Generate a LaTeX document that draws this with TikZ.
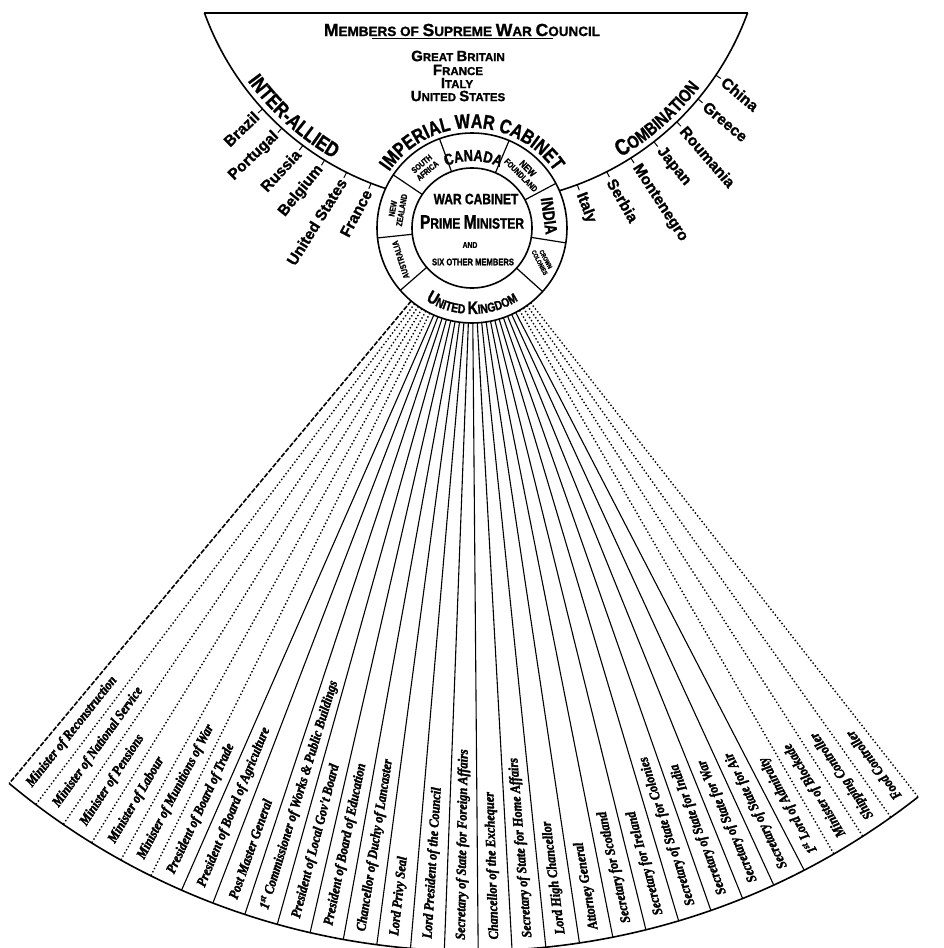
\documentclass[tikz,border=0pt]{standalone}
\usepackage{fontspec}
\setmainfont{Liberation Sans}
\newfontfamily\heavysans{Liberation Sans}[FakeBold=1.2]
\newfontfamily\letterfont{Liberation Sans}[FakeStretch=0.8,FakeBold=1.2]
\newfontfamily\handfont{Liberation Serif}[FakeStretch=0.88,FakeBold=2.2]
\usetikzlibrary{calc,decorations.text}

\newcommand\capl[1]{\scalebox{1.3}{#1}}

\begin{document}
\begin{tikzpicture}[x=1pt,y=1pt,
  ring/.style={line width=1.6pt},
  spoke/.style={line width=1.1pt},
  dotspoke/.style={line width=1.4pt,dash pattern=on 1.4pt off 2.2pt},
  fanedge/.style={line width=1.6pt,dash pattern=on 5pt off 1.6pt},
  office/.style={font=\handfont\bfseries\itshape\fontsize{14}{14}\selectfont,anchor=west,inner sep=0pt},
  ally/.style={font=\heavysans\bfseries\fontsize{15.5}{15.5}\selectfont,inner sep=0pt},
  dom/.style={font=\letterfont\bfseries\fontsize{8.5}{9}\selectfont,align=center,inner sep=0pt},
  council/.style={font=\heavysans\bfseries\fontsize{11.5}{11.5}\selectfont}]
\useasboundingbox (0,0) rectangle (943,-948);
\coordinate (C) at (472,-228);
\coordinate (B) at (476,86);

% supreme war council
\coordinate (tl) at ($(B)+(-160:289)$);
\coordinate (tr) at ($(B)+(-20:289)$);
\draw[ring] (tl) -- (tr);
\draw[ring] (tl) arc[start angle=-160,end angle=-20,radius=289];

\node[font=\heavysans\bfseries\fontsize{13.5}{13.5}\selectfont] (swc) at (462,-30)
  {\capl{M}EMBERS OF \capl{S}UPREME \capl{W}AR \capl{C}OUNCIL};
\draw[line width=1.2pt] ($(swc.south)+(-90,1)$) -- ($(swc.south)+(91,1)$);
\node[council] (gb) at (458,-56) {\capl{G}REAT \capl{B}RITAIN};
\node[council] (fr) at (458,-70) {\capl{F}RANCE};
\node[council] (it) at (457,-83) {\capl{I}TALY};
\node[council] (us) at (458,-96) {\capl{U}NITED \capl{S}TATES};

% inter-allied and combination
\path[decorate,decoration={text along path,text align=center,
  text={|\letterfont\bfseries\fontsize{21}{21}\selectfont|INTER-ALLIED}}]
  ($(B)+(-152:283)$) arc[start angle=-152,end angle=-112,radius=283];
\path[decorate,decoration={text along path,text align=center,
  text={|\letterfont\bfseries\fontsize{23}{23}\selectfont|C|\letterfont\bfseries\fontsize{18}{18}\selectfont|OMBINATION}}]
  ($(B)+(-68:283)$) arc[start angle=-68,end angle=-29,radius=283];

\foreach \a/\name/\rot [count=\i] in {-137.6/Brazil/44,-132.2/Portugal/44,-126.8/Russia/47,
    -121.6/Belgium/51,-116.6/United States/58,-111.3/France/62} {
  \coordinate (lt\i) at ($(B)+(\a:289)$);
  \coordinate (lu\i) at ($(B)+(\a:295)$);
  \draw[line width=1pt] (lt\i) -- (lu\i);
  \node[ally,anchor=east,rotate=\rot] (left\i) at ($(B)+(\a:297)$) {\name};
}
\foreach \a/\name/\rot [count=\i] in {-69.5/Italy/-69,-63.1/Serbia/-60,-57.6/Montenegro/-57,
    -52/Japan/-51,-46/Roumania/-49,-39.8/Greece/-40,-33.9/China/-40} {
  \coordinate (rt\i) at ($(B)+(\a:289)$);
  \coordinate (ru\i) at ($(B)+(\a:295)$);
  \draw[line width=1pt] (rt\i) -- (ru\i);
  \node[ally,anchor=west,rotate=\rot] (right\i) at ($(B)+(\a:298)$) {\name};
}

% imperial war cabinet
\fill[white] (C) circle[radius=95];
\draw[ring] (C) circle[radius=95];
\draw[ring] (C) circle[radius=60];
\foreach \a [count=\i] in {110,67,28,-9,-42,-139,186,146} {
  \coordinate (di\i) at ($(C)+(\a:60)$);
  \coordinate (do\i) at ($(C)+(\a:95)$);
  \draw[line width=1.2pt] (di\i) -- (do\i);
}
\path[decorate,decoration={text along path,text align=center,
  text={|\letterfont\bfseries\fontsize{20}{20}\selectfont|IMPERIAL WAR CABINET}}]
  ($(C)+(160:100)$) arc[start angle=160,end angle=20,radius=100];
\path[decorate,decoration={text along path,text align=center,
  text={|\letterfont\bfseries\fontsize{16}{16}\selectfont|CANADA}}]
  ($(C)+(118:67)$) arc[start angle=118,end angle=60,radius=67];
\path[decorate,decoration={text along path,text align=center,
  text={|\letterfont\bfseries\fontsize{18}{18}\selectfont|U|\letterfont\bfseries\fontsize{13}{13}\selectfont|NITED |\letterfont\bfseries\fontsize{18}{18}\selectfont|K|\letterfont\bfseries\fontsize{13}{13}\selectfont|INGDOM}}]
  ($(C)+(-145:86)$) arc[start angle=-145,end angle=-35,radius=86];

\node[dom,rotate=40] (safrica) at ($(C)+(128:77)$) {SOUTH\\AFRICA};
\node[dom,rotate=-45] (nfland) at ($(C)+(47:77)$) {{\fontsize{10}{10}\selectfont NEW}\\FOUNDLAND};
\node[dom,rotate=-82,font=\letterfont\bfseries\fontsize{17}{17}\selectfont] (india) at ($(C)+(9:78)$) {INDIA};
\node[dom,rotate=-62,font=\letterfont\bfseries\fontsize{6.5}{7}\selectfont] (colonies) at ($(C)+(-25:78)$) {CROWN\\COLONIES};
\node[dom,rotate=108] (austr) at ($(C)+(204:78)$) {AUSTRALIA};
\node[dom,rotate=80] (nzeal) at ($(C)+(166:77)$) {NEW\\ZEALAND};

\node[font=\letterfont\bfseries\fontsize{15}{15}\selectfont] (wcab) at (476,-199) {WAR CABINET};
\node[font=\letterfont\bfseries\fontsize{15}{15}\selectfont] (pm) at (472,-222) {\capl{P}RIME \capl{M}INISTER};
\node[font=\letterfont\bfseries\fontsize{8.5}{8.5}\selectfont] (and) at (470,-245) {AND};
\node[font=\letterfont\bfseries\fontsize{9.5}{9.5}\selectfont] (six) at (473,-262) {SIX OTHER MEMBERS};

% the ministries
\foreach \i in {0,...,29} {
  \pgfmathsetmacro\ang{-129.8+2.686*\i}
  \coordinate (fi\i) at ($(C)+(\ang:95)$);
  \coordinate (fo\i) at ($(C)+(\ang:723)$);
}
\draw[fanedge] (fi0) -- (fo0);
\foreach \i in {1,...,5} \draw[dotspoke] (fi\i) -- (fo\i);
\foreach \i in {6,...,25} \draw[spoke] (fi\i) -- (fo\i);
\foreach \i in {26,...,29} \draw[dotspoke] (fi\i) -- (fo\i);
\draw[ring] (fo0) arc[start angle=-129.8,end angle=-51.906,radius=723];

\foreach \t [count=\i] in {Minister of Reconstruction,Minister of National Service,
    Minister of Pensions,Minister of Labour,Minister of Munitions of War,
    President of Board of Trade,President of Board of Agriculture,Post Master General,
    {1\textsuperscript{st} Commissioner of Works \& Public Buildings},
    President of Local Gov't Board,President of Board of Education,
    Chancellor of Duchy of Lancaster,Lord Privy Seal,Lord President of the Council,
    Secretary of State for Foreign Affairs,Chancellor of the Exchequer,
    Secretary of State for Home Affairs,Lord High Chancellor,Attorney General,
    Secretary for Scotland,Secretary for Ireland,Secretary of State for Colonies,
    Secretary of State for India,Secretary of State for War,Secretary of State for Air,
    {1\textsuperscript{st} Lord of Admiralty},Minister of Blockade,Shipping Controller,
    Food Controller} {
  \pgfmathsetmacro\mid{-129.8+2.686*(\i-0.5)}
  \pgfmathsetmacro\rot{\mid+180}
  \node[office,rotate=\rot] (post\i) at ($(C)+(\mid:712)$) {\t};
}
\end{tikzpicture}
\end{document}
